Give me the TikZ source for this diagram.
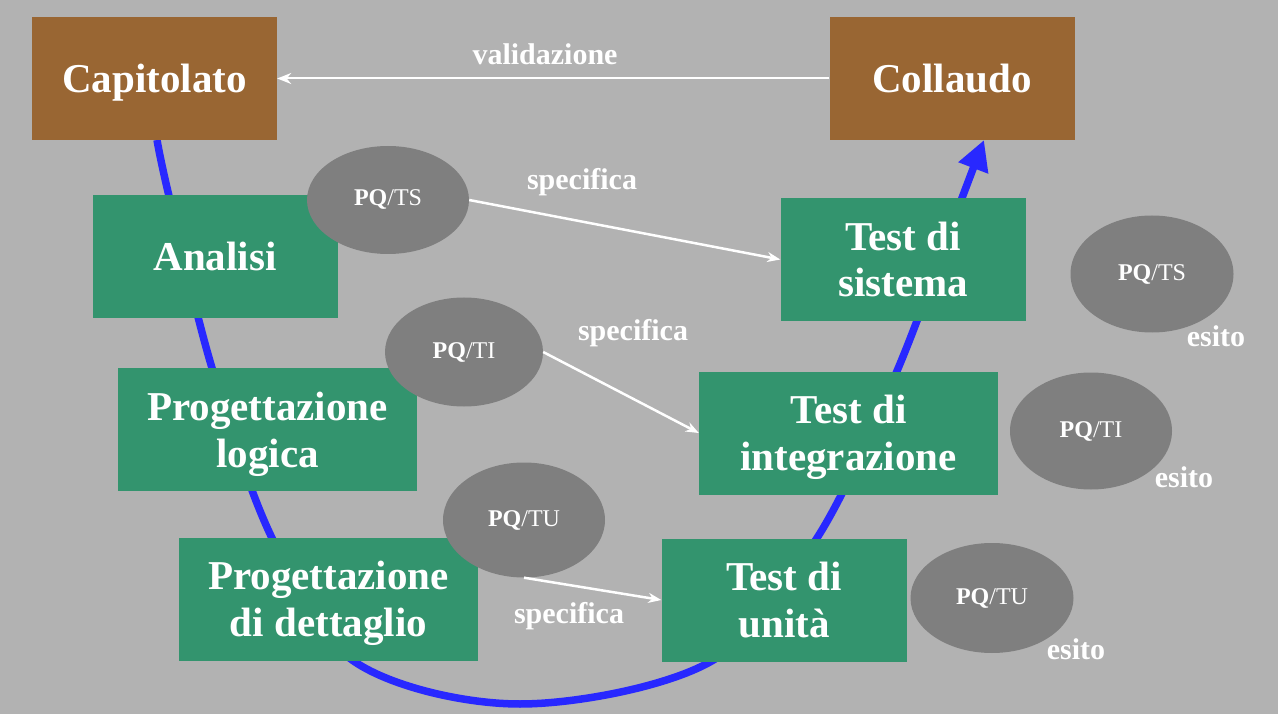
\documentclass[tikz,border=0pt]{standalone}
\usepackage{fontspec}
\setmainfont{Liberation Serif}
\usetikzlibrary{arrows.meta,positioning,shapes.geometric}
\definecolor{bggray}{HTML}{B2B2B2}
\definecolor{phasegreen}{HTML}{33946E}
\definecolor{endbrown}{HTML}{996633}
\definecolor{pqgray}{HTML}{7F7F7F}
\definecolor{vblue}{HTML}{2828FF}
\tikzset{
  phasebox/.style={fill=phasegreen,text=white,font=\fontsize{41}{47}\selectfont\bfseries,
    align=center,minimum height=123pt,inner sep=0pt,text height=33pt,text depth=5pt},
  twoline/.style={text height=80pt},
  endbox/.style={phasebox,fill=endbrown,minimum width=245pt},
  pqell/.style={ellipse,fill=pqgray,text=white,font=\fontsize{24}{28}\selectfont,inner sep=0pt},
  lbl/.style={text=white,font=\fontsize{30}{34}\selectfont\bfseries,inner sep=2pt},
  specarrow/.style={white,line width=2.5pt,-{Stealth[length=13pt,width=10pt]}}
}
\begin{document}
\begin{tikzpicture}[x=1pt,y=-1pt]
  \fill[bggray] (0,0) rectangle (1278,714);
  \useasboundingbox (0,0) rectangle (1278,714);
  % the V curve
  \draw[vblue,line width=7.5pt,-{Triangle[length=30pt,width=30pt]}]
    plot[smooth,tension=0.55] coordinates {(157,140) (169,196) (212,368) (272,538)
      (355,662) (520,704) (710,662) (817,538) (897,371) (962,198) (984,140)};
  % phases
  \node[endbox] (capit) at (154.5,78.5) {Capitolato};
  \node[endbox] (collau) at (952,78.5) {Collaudo};
  \node[phasebox,minimum width=245pt] (anal) at (215,257) {Analisi};
  \node[phasebox,twoline,minimum width=299pt] (plog) at (267.5,429.5) {Progettazione\\logica};
  \node[phasebox,twoline,minimum width=299pt] (pdet) at (328.5,599) {Progettazione\\di dettaglio};
  \node[phasebox,twoline,minimum width=245pt] (tsis) at (903,259.5) {Test di\\sistema};
  \node[phasebox,twoline,minimum width=299pt] (tint) at (848.5,433) {Test di\\integrazione};
  \node[phasebox,twoline,minimum width=245pt] (tuni) at (784,600) {Test di\\unità};
  % plans
  \node[pqell,minimum width=162pt,minimum height=108pt] (pqtsL) at (388,200) {\textbf{PQ}/TS};
  \node[pqell,minimum width=158pt,minimum height=109pt] (pqtiL) at (464,352) {\textbf{PQ}/TI};
  \node[pqell,minimum width=162pt,minimum height=115pt] (pqtuL) at (524,520) {\textbf{PQ}/TU};
  \node[pqell,minimum width=163pt,minimum height=117pt] (pqtsR) at (1152,274) {\textbf{PQ}/TS};
  \node[pqell,minimum width=162pt,minimum height=117pt] (pqtiR) at (1091,431) {\textbf{PQ}/TI};
  \node[pqell,minimum width=163pt,minimum height=110pt] (pqtuR) at (992,598) {\textbf{PQ}/TU};
  % arrows
  \draw[white,line width=2pt,-{Stealth[length=14pt,width=11pt]}] (collau.west) -- (capit.east);
  \draw[specarrow] (pqtsL.east) -- (tsis.west);
  \draw[specarrow] (pqtiL.east) -- (tint.west);
  \draw[specarrow] (pqtuL.south) -- (tuni.west);
  % labels
  \node[lbl] (valid) at (545,54) {validazione};
  \node[lbl] (spec1) at (582,182) {specifica};
  \node[lbl] (spec2) at (633,333) {specifica};
  \node[lbl] (spec3) at (569,616) {specifica};
  \node[lbl] (esit1) at (1216,336) {esito};
  \node[lbl] (esit2) at (1184,477) {esito};
  \node[lbl] (esit3) at (1076,649) {esito};
\end{tikzpicture}
\end{document}
